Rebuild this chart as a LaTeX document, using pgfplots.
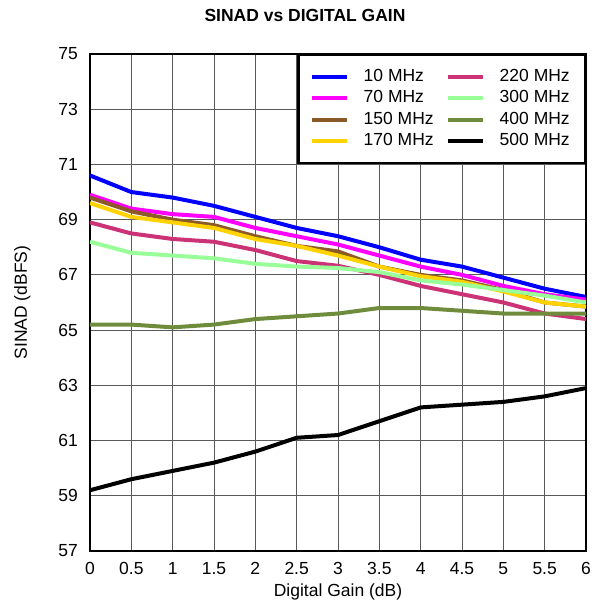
\documentclass[border=0pt]{standalone}
\usepackage{pgfplots}
\pgfplotsset{compat=1.18}
\usepackage{fontspec}
\setmainfont{Liberation Sans}
\definecolor{cBlue}{RGB}{0,0,255}
\definecolor{cMag}{RGB}{255,0,255}
\definecolor{cBrown}{RGB}{140,90,40}
\definecolor{cGold}{RGB}{255,210,0}
\definecolor{cRose}{RGB}{204,51,119}
\definecolor{cLGreen}{RGB}{153,255,153}
\definecolor{cOlive}{RGB}{110,140,60}
\begin{document}
\begin{tikzpicture}[font=\fontsize{17.5}{21}\selectfont]
\begin{axis}[
  scale only axis, width=496pt, height=497pt,
  xmin=0, xmax=6, ymin=57, ymax=75,
  xtick={0,0.5,1,1.5,2,2.5,3,3.5,4,4.5,5,5.5,6},
  ytick={57,59,61,63,65,67,69,71,73,75},
  /pgf/number format/assume math mode=true,
  grid=major, grid style={black!65, line width=0.9pt},
  axis line style={line width=2.5pt},
  major tick length=0pt, tick style={draw=none},
  xticklabel style={anchor=north, inner sep=0pt, yshift=-11pt},
  yticklabel style={anchor=east, inner sep=0pt, xshift=-12pt},
  title={\bfseries SINAD vs DIGITAL GAIN},
  title style={at={(rel axis cs:0.4335,1)}, anchor=base, yshift=26pt, inner sep=0pt, font=\fontsize{17.5}{21}\selectfont},
  xlabel={Digital Gain (dB)},
  xlabel style={at={(rel axis cs:0.5,0)}, anchor=base, yshift=-46pt, inner sep=0pt},
  ylabel={SINAD (dBFS)},
  ylabel style={at={(rel axis cs:0,0.5)}, anchor=base, yshift=63pt, inner sep=0pt},
  legend columns=4, transpose legend,
  legend cell align=left,
  legend image code/.code={\draw[#1] (0pt,0pt) -- (35pt,0pt); \path (38pt,0pt);},
  legend style={at={(rel axis cs:1,1)}, anchor=north east, draw=black, line width=2.5pt,
    fill=white, inner xsep=11pt, inner ysep=11pt, column sep=8pt,
    nodes={inner xsep=4pt, inner ysep=3pt, text height=12pt, text depth=3.5pt},
    font=\fontsize{17.5}{21}\selectfont},
  every axis plot/.append style={line width=4pt, line join=round},
]
\addplot[cBlue] coordinates {(0,70.6)(0.5,70.0)(1,69.8)(1.5,69.5)(2,69.1)(2.5,68.7)(3,68.4)(3.5,68.0)(4,67.55)(4.5,67.3)(5,66.9)(5.5,66.5)(6,66.2)};
\addlegendentry{10 MHz}
\addplot[cMag] coordinates {(0,69.9)(0.5,69.4)(1,69.2)(1.5,69.1)(2,68.7)(2.5,68.4)(3,68.1)(3.5,67.7)(4,67.3)(4.5,67.0)(5,66.6)(5.5,66.3)(6,66.1)};
\addlegendentry{70 MHz}
\addplot[cBrown] coordinates {(0,69.8)(0.5,69.3)(1,69.0)(1.5,68.8)(2,68.4)(2.5,68.05)(3,67.85)(3.5,67.3)(4,67.0)(4.5,66.8)(5,66.45)(5.5,66.0)(6,65.85)};
\addlegendentry{150 MHz}
\addplot[cGold] coordinates {(0,69.6)(0.5,69.1)(1,68.9)(1.5,68.7)(2,68.3)(2.5,68.05)(3,67.7)(3.5,67.3)(4,66.95)(4.5,66.75)(5,66.4)(5.5,66.0)(6,65.85)};
\addlegendentry{170 MHz}
\addplot[cRose] coordinates {(0,68.9)(0.5,68.5)(1,68.3)(1.5,68.2)(2,67.9)(2.5,67.5)(3,67.33)(3.5,67.0)(4,66.6)(4.5,66.3)(5,66.0)(5.5,65.6)(6,65.4)};
\addlegendentry{220 MHz}
\addplot[cLGreen] coordinates {(0,68.2)(0.5,67.8)(1,67.7)(1.5,67.6)(2,67.4)(2.5,67.3)(3,67.25)(3.5,67.1)(4,66.8)(4.5,66.65)(5,66.45)(5.5,66.25)(6,66.0)};
\addlegendentry{300 MHz}
\addplot[cOlive] coordinates {(0,65.2)(0.5,65.2)(1,65.1)(1.5,65.2)(2,65.4)(2.5,65.5)(3,65.6)(3.5,65.8)(4,65.8)(4.5,65.7)(5,65.6)(5.5,65.6)(6,65.6)};
\addlegendentry{400 MHz}
\addplot[black] coordinates {(0,59.2)(0.5,59.6)(1,59.9)(1.5,60.2)(2,60.6)(2.5,61.1)(3,61.2)(3.5,61.7)(4,62.2)(4.5,62.3)(5,62.4)(5.5,62.6)(6,62.9)};
\addlegendentry{500 MHz}
\end{axis}
\path[use as bounding box] (current axis.south west) ++(-90pt,-53pt) rectangle ([xshift=24pt,yshift=54pt]current axis.north east);
\end{tikzpicture}
\end{document}
